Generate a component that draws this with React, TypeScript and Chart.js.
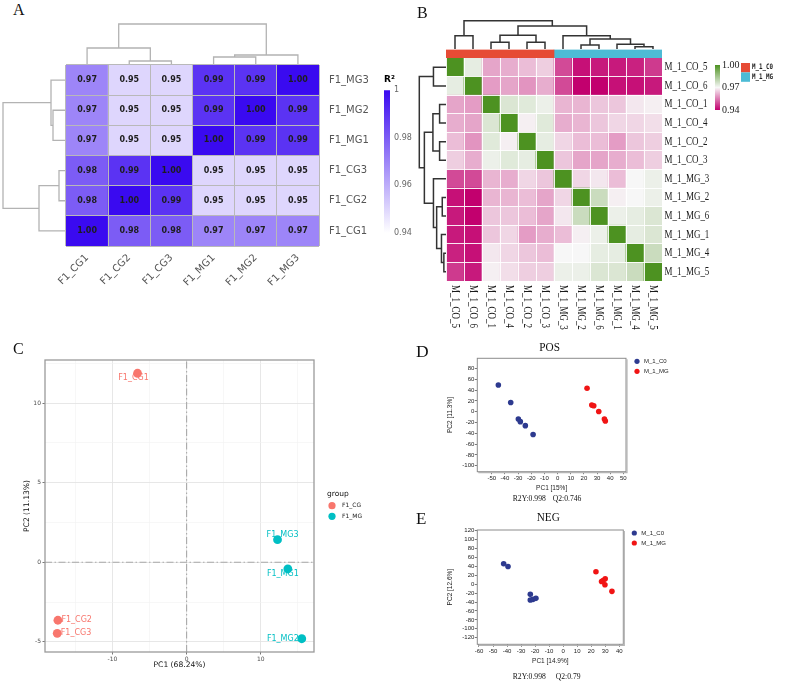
import React, { useEffect, useRef } from "react";
import { Chart, registerables } from "chart.js";

Chart.register(...registerables);

/* ---------- fonts ---------- */
const SANS = '"DejaVu Sans", sans-serif';
const ARIAL = '"Liberation Sans", Arial, sans-serif';
const SERIF = '"Liberation Serif", "Times New Roman", serif';
const MONO = '"DejaVu Sans Mono", monospace';

/* ---------- A: R² correlation between samples ---------- */
const colsA = ["F1_CG1", "F1_CG2", "F1_CG3", "F1_MG1", "F1_MG2", "F1_MG3"];
const rowsA = ["F1_MG3", "F1_MG2", "F1_MG1", "F1_CG3", "F1_CG2", "F1_CG1"];
const r2A_MG3 = [0.97, 0.95, 0.95, 0.99, 0.99, 1.0];
const r2A_MG2 = [0.97, 0.95, 0.95, 0.99, 1.0, 0.99];
const r2A_MG1 = [0.97, 0.95, 0.95, 1.0, 0.99, 0.99];
const r2A_CG3 = [0.98, 0.99, 1.0, 0.95, 0.95, 0.95];
const r2A_CG2 = [0.98, 1.0, 0.99, 0.95, 0.95, 0.95];
const r2A_CG1 = [1.0, 0.98, 0.98, 0.97, 0.97, 0.97];
const r2A = [r2A_MG3, r2A_MG2, r2A_MG1, r2A_CG3, r2A_CG2, r2A_CG1];
const legendTicksA = [0.94, 0.96, 0.98, 1];
// hclust-style merges: negative = leaf (1-based, display order), positive = earlier merge
const colMergeA = [[-2, -3], [-4, -5], [-6, 2], [-1, 1], [4, 3]];
const colHeightA = [0.4, 0.8, 1.0, 1.7, 4.1];
const rowMergeA = [[-2, -3], [-1, 1], [-4, -5], [-6, 3], [2, 4]];
const rowHeightA = [1.3, 1.5, 0.7, 2.7, 6.3];

/* ---------- B: correlation heatmap with groups ---------- */
const samplesB = ["M_1_CO_5", "M_1_CO_6", "M_1_CO_1", "M_1_CO_4", "M_1_CO_2", "M_1_CO_3",
  "M_1_MG_3", "M_1_MG_2", "M_1_MG_6", "M_1_MG_1", "M_1_MG_4", "M_1_MG_5"];
const corB_CO5 = [1.0, 0.973, 0.960, 0.961, 0.963, 0.965, 0.949, 0.942, 0.943, 0.943, 0.944, 0.947];
const corB_CO6 = [0.973, 1.0, 0.959, 0.960, 0.958, 0.961, 0.949, 0.940, 0.940, 0.942, 0.942, 0.943];
const corB_CO1 = [0.960, 0.959, 1.0, 0.975, 0.974, 0.972, 0.962, 0.962, 0.964, 0.964, 0.968, 0.969];
const corB_CO4 = [0.961, 0.960, 0.975, 1.0, 0.969, 0.974, 0.961, 0.962, 0.964, 0.966, 0.966, 0.967];
const corB_CO2 = [0.963, 0.958, 0.974, 0.969, 1.0, 0.973, 0.966, 0.963, 0.963, 0.959, 0.964, 0.965];
const corB_CO3 = [0.965, 0.961, 0.972, 0.974, 0.973, 1.0, 0.964, 0.960, 0.960, 0.961, 0.963, 0.965];
const corB_MG3 = [0.949, 0.949, 0.962, 0.961, 0.966, 0.964, 1.0, 0.966, 0.968, 0.963, 0.970, 0.972];
const corB_MG2 = [0.942, 0.940, 0.962, 0.962, 0.963, 0.960, 0.966, 1.0, 0.978, 0.969, 0.970, 0.972];
const corB_MG6 = [0.943, 0.940, 0.964, 0.964, 0.963, 0.960, 0.968, 0.978, 1.0, 0.972, 0.973, 0.975];
const corB_MG1 = [0.943, 0.942, 0.964, 0.966, 0.959, 0.961, 0.963, 0.969, 0.972, 1.0, 0.973, 0.975];
const corB_MG4 = [0.944, 0.942, 0.968, 0.966, 0.964, 0.963, 0.970, 0.970, 0.973, 0.973, 1.0, 0.978];
const corB_MG5 = [0.947, 0.943, 0.969, 0.967, 0.965, 0.965, 0.972, 0.972, 0.975, 0.975, 0.978, 1.0];
const corB = [corB_CO5, corB_CO6, corB_CO1, corB_CO4, corB_CO2, corB_CO3,
  corB_MG3, corB_MG2, corB_MG6, corB_MG1, corB_MG4, corB_MG5];
const groupNamesB = ["M_1_C0", "M_1_MG"];
const groupOfB = samplesB.map((s) => (s.includes("_CO_") ? groupNamesB[0] : groupNamesB[1]));
const legendTicksB = [0.94, 0.97, 1.0];
const mergeB = [[-1, -2], [-3, -4], [-5, -6], [2, 3], [-11, -12], [-10, 5], [-8, -9], [7, 6], [-7, 8], [4, 9], [1, 10]];
const heightB = [0.47, 0.24, 0.24, 0.49, 0.08, 0.17, 0.14, 0.35, 0.47, 0.81, 1.0];

/* ---------- C: PCA ---------- */
const samplesC = ["F1_CG1", "F1_CG2", "F1_CG3", "F1_MG1", "F1_MG2", "F1_MG3"];
const groupC = ["F1_CG", "F1_CG", "F1_CG", "F1_MG", "F1_MG", "F1_MG"];
const pc1C = [-6.62, -17.36, -17.45, 13.65, 15.53, 12.26];
const pc2C = [11.87, -3.64, -4.46, -0.42, -4.8, 1.42];
const majorTicksCX = [-10, 0, 10];
const minorTicksCX = [-15, -5, 5, 15];
const majorTicksCY = [-5, 0, 5, 10];
const minorTicksCY = [-2.5, 2.5, 7.5, 12.5];

/* ---------- D / E: OPLS-DA score plots ---------- */
const groupNamesDE = ["M_1_C0", "M_1_MG"];
const posCO_x = [-45.0, -35.6, -29.8, -28.3, -24.5, -18.6];
const posCO_y = [49.5, 17.1, -13.4, -18.3, -25.7, -42.2];
const posMG_x = [22.4, 26.0, 27.5, 31.3, 35.6, 36.3];
const posMG_y = [43.5, 12.3, 11.0, 0.6, -13.4, -17.1];
const negCO_x = [-42.4, -39.3, -23.4, -23.4, -21.5, -19.4];
const negCO_y = [45.7, 39.7, -22.7, -35.4, -33.9, -31.7];
const negMG_x = [23.4, 27.4, 28.5, 30.0, 29.8, 34.8];
const negMG_y = [27.9, 6.2, 8.0, 12.3, -1.1, -16.0];
const xTicksD = [-50, -40, -30, -20, -10, 0, 10, 20, 30, 40, 50];
const yTicksD = [-100, -80, -60, -40, -20, 0, 20, 40, 60, 80];
const xTicksE = [-60, -50, -40, -30, -20, -10, 0, 10, 20, 30, 40];
const yTicksE = [-120, -100, -80, -60, -40, -20, 0, 20, 40, 60, 80, 100, 120];
const xRangeD = [-61, 52];
const yRangeD = [-111, 99];
const xRangeE = [-61.2, 42.9];
const yRangeE = [-134.7, 121.5];
const statsPOS = { r2y: 0.998, q2: 0.746 };
const statsNEG = { r2y: 0.998, q2: 0.79 };

/* ---------- colour scales ---------- */
type RGB = number[];
const mixRGB = (a: RGB, b: RGB, t: number) =>
  `rgb(${Math.round(a[0] + (b[0] - a[0]) * t)},${Math.round(a[1] + (b[1] - a[1]) * t)},${Math.round(a[2] + (b[2] - a[2]) * t)})`;
const rampA: [number, RGB][] = [[0.94, [255, 255, 255]], [1.0, [58, 10, 240]]];
const rampB: [number, RGB][] = [[0.94, [194, 0, 110]], [0.97, [247, 247, 247]], [1.0, [77, 146, 33]]];
function rampColor(ramp: [number, RGB][], v: number) {
  if (v <= ramp[0][0]) return mixRGB(ramp[0][1], ramp[0][1], 0);
  for (let i = 0; i < ramp.length - 1; i++) {
    const [v0, c0] = ramp[i];
    const [v1, c1] = ramp[i + 1];
    if (v <= v1) return mixRGB(c0, c1, (v - v0) / (v1 - v0));
  }
  const last = ramp[ramp.length - 1][1];
  return mixRGB(last, last, 0);
}
const colorA = (v: number) => rampColor(rampA, v);
const colorB = (v: number) => rampColor(rampB, v);

function rampGradient(ramp: [number, RGB][]) {
  return (c: any) => {
    const chart = c.chart;
    if (!chart.chartArea) return "transparent";
    const y = chart.scales.y;
    const lo = ramp[0][0];
    const hi = ramp[ramp.length - 1][0];
    const g = chart.ctx.createLinearGradient(0, y.getPixelForValue(lo), 0, y.getPixelForValue(hi));
    ramp.forEach(([v, col]) => g.addColorStop((v - lo) / (hi - lo), mixRGB(col, col, 0)));
    return g;
  };
}

/* ---------- helpers ---------- */
function baseOptions(padding: any) {
  return {
    responsive: false,
    maintainAspectRatio: false,
    animation: false,
    devicePixelRatio: 1,
    events: [],
    layout: { padding },
    plugins: { legend: { display: false }, tooltip: { enabled: false }, title: { display: false } },
  };
}

function drawText(ctx: CanvasRenderingContext2D, text: string, x: number, y: number, font: string,
  color: string, align: CanvasTextAlign = "left", sx = 1, rot = 0) {
  ctx.save();
  ctx.font = font;
  ctx.fillStyle = color;
  ctx.textAlign = align;
  ctx.textBaseline = "middle";
  ctx.translate(x, y);
  if (rot) ctx.rotate(rot);
  ctx.scale(sx, 1);
  ctx.fillText(text, 0, 0);
  ctx.restore();
}

// U-shaped links of a dendrogram, [position, height] pairs
function dendroSegments(merge: number[][], height: number[]) {
  const pos: number[] = [];
  const hgt: number[] = [];
  return merge.map(([a, b], i) => {
    const pa = a < 0 ? -a - 0.5 : pos[a - 1];
    const ha = a < 0 ? 0 : hgt[a - 1];
    const pb = b < 0 ? -b - 0.5 : pos[b - 1];
    const hb = b < 0 ? 0 : hgt[b - 1];
    const h = height[i];
    pos[i] = (pa + pb) / 2;
    hgt[i] = h;
    return [[pa, ha], [pa, h], [pb, h], [pb, hb]];
  });
}

function dendroConfig(merge: number[][], height: number[], leaves: number, side: "top" | "left",
  color: string, width: number, padding: any) {
  const hMax = Math.max(...height);
  const datasets = dendroSegments(merge, height).map((seg) => ({
    data: seg.map(([p, h]) => (side === "top" ? { x: p, y: h } : { x: h, y: p })),
    showLine: true,
    pointRadius: 0,
    borderColor: color,
    borderWidth: width,
    borderCapStyle: "butt",
    borderJoinStyle: "miter",
    clip: false,
    tension: 0,
  }));
  const scales =
    side === "top"
      ? { x: { type: "linear", min: 0, max: leaves, display: false }, y: { type: "linear", min: 0, max: hMax, display: false } }
      : { x: { type: "linear", min: 0, max: hMax, reverse: true, display: false }, y: { type: "linear", min: 0, max: leaves, reverse: true, display: false } };
  return { type: "scatter", data: { datasets }, options: { ...baseOptions(padding), scales } };
}

function ChartBox({ left, top, width, height, config }: any) {
  const ref = useRef<HTMLCanvasElement>(null);
  useEffect(() => {
    const chart = new Chart(ref.current as HTMLCanvasElement, config());
    return () => chart.destroy();
  }, []);
  return (
    <canvas ref={ref} width={width} height={height}
      style={{ position: "absolute", left, top, width, height, display: "block" }} />
  );
}

/* ---------- plugins ---------- */
const cellTextPlugin = {
  id: "cellText",
  afterDatasetsDraw(chart: any) {
    const ctx = chart.ctx;
    chart.data.datasets.forEach((ds: any, j: number) => {
      chart.getDatasetMeta(j).data.forEach((el: any, c: number) => {
        const { x, y, base } = el.getProps(["x", "y", "base"], true);
        drawText(ctx, ds.values[c].toFixed(2), x, (y + base) / 2, `bold 8px ${SANS}`, "#1e1e1e", "center");
      });
    });
  },
};

const sampleLabelsB = {
  id: "sampleLabelsB",
  afterDraw(chart: any) {
    const { ctx, chartArea: a, scales } = chart;
    const font = `11.5px ${SERIF}`;
    chart.data.labels.forEach((lab: string, i: number) => {
      drawText(ctx, lab, a.right + 2.5, scales.yr.getPixelForValue(i), font, "#1a1a1a", "left", 0.78);
      drawText(ctx, lab, scales.x.getPixelForValue(i), a.bottom + 4, font, "#1a1a1a", "left", 0.78, Math.PI / 2);
    });
  },
};

const groupLegendB = {
  id: "groupLegendB",
  afterDraw(chart: any) {
    const { ctx, chartArea: a } = chart;
    const x0 = a.right + 79;
    const y0 = a.bottom + 5;
    chart.data.datasets.forEach((ds: any, i: number) => {
      const y = y0 + i * 9.4;
      ctx.fillStyle = ds.backgroundColor;
      ctx.fillRect(x0, y, 9, 9.4);
      drawText(ctx, ds.label, x0 + 11, y + 4.5 + i * 0.6, `bold 7.5px ${MONO}`, "#222", "left", 0.78);
    });
  },
};

const pcaDecor = {
  id: "pcaDecor",
  afterDraw(chart: any) {
    const { ctx, chartArea: a, scales } = chart;
    // panel border
    ctx.save();
    ctx.strokeStyle = "#9a9a9a";
    ctx.lineWidth = 1.3;
    ctx.strokeRect(a.left, a.top, a.right - a.left, a.bottom - a.top);
    ctx.restore();
    // sample labels
    const place: Record<string, [number, number, CanvasTextAlign]> = {
      F1_CG1: [-4, 5, "center"], F1_CG2: [3.5, 0, "left"], F1_CG3: [3.5, 0, "left"],
      F1_MG3: [5, -5, "center"], F1_MG1: [-5, 5, "center"], F1_MG2: [-3, 0, "right"],
    };
    [0, 1].forEach((j) => {
      const ds = chart.data.datasets[j];
      ds.data.forEach((p: any, k: number) => {
        const [dx, dy, al] = place[ds.names[k]];
        const px = scales.x.getPixelForValue(p.x);
        const py = scales.y.getPixelForValue(p.y);
        drawText(ctx, ds.names[k], px + dx, py + dy, `8px ${SANS}`, ds.backgroundColor, al);
      });
    });
    // legend
    const lx = a.right + 13;
    drawText(ctx, "group", lx, a.top + 134, `7.5px ${SANS}`, "#111", "left");
    [0, 1].forEach((j) => {
      const ds = chart.data.datasets[j];
      const y = a.top + 145.7 + j * 10.6;
      ctx.beginPath();
      ctx.arc(lx + 5, y, 3.6, 0, Math.PI * 2);
      ctx.fillStyle = ds.backgroundColor;
      ctx.fill();
      drawText(ctx, ds.label, lx + 15, y, `6px ${SANS}`, "#222", "left");
    });
  },
};

function oplsDecor(title: string, stats: { r2y: number; q2: number }, statsDy: number, titleDy: number, q2Dx: number) {
  return {
    id: "oplsDecor",
    afterDraw(chart: any) {
      const { ctx, chartArea: a } = chart;
      ctx.save();
      ctx.strokeStyle = "#8c8c8c";
      ctx.lineWidth = 1;
      ctx.strokeRect(a.left, a.top, a.right - a.left, a.bottom - a.top);
      ctx.strokeStyle = "#b4b4b4";
      ctx.lineWidth = 1.2;
      ctx.beginPath();
      ctx.moveTo(a.right + 1, a.top + 1);
      ctx.lineTo(a.right + 1, a.bottom + 1);
      ctx.lineTo(a.left + 1, a.bottom + 1);
      ctx.stroke();
      ctx.restore();
      const cx = (a.left + a.right) / 2;
      drawText(ctx, title, cx - 2, a.top + titleDy, `12.5px ${SERIF}`, "#111", "center", 0.9);
      drawText(ctx, `R2Y:${stats.r2y}`, a.left + 35.4, a.bottom + statsDy, `9px ${SERIF}`, "#111", "left", 0.85);
      drawText(ctx, `Q2:${stats.q2}`, a.left + q2Dx, a.bottom + statsDy, `9px ${SERIF}`, "#111", "left", 0.85);
      // legend
      chart.data.datasets.forEach((ds: any, j: number) => {
        const y = a.top + 3 + j * 10;
        ctx.beginPath();
        ctx.arc(a.right + 11, y, 2.6, 0, Math.PI * 2);
        ctx.fillStyle = ds.backgroundColor;
        ctx.fill();
        drawText(ctx, ds.label, a.right + 18, y, `6px ${ARIAL}`, "#222", "left");
      });
    },
  };
}

/* ---------- chart configs ---------- */
function heatmapAConfig() {
  const gridCol = "#b9b9b9";
  const datasets = rowsA
    .map((name, r) => ({
      label: name,
      values: r2A[r],
      data: r2A[r].map(() => 1),
      backgroundColor: r2A[r].map(colorA),
      borderWidth: 0,
      barPercentage: 1,
      categoryPercentage: 1,
    }))
    .reverse();
  return {
    type: "bar",
    data: { labels: colsA, datasets },
    options: {
      ...baseOptions({ left: 16, top: 10, right: 0, bottom: 0 }),
      scales: {
        x: {
          stacked: true, offset: true,
          grid: { offset: true, color: gridCol, lineWidth: 1, z: 1, drawTicks: false },
          border: { display: false },
          ticks: { autoSkip: false, minRotation: 45, maxRotation: 45, padding: 6, color: "#555", font: { family: SANS, size: 10 } },
          afterFit: (s: any) => { s.height = 54; s.paddingLeft = 0; s.paddingRight = 0; },
        },
        y: { stacked: true, min: 0, max: rowsA.length, display: false },
        yr: {
          type: "category", labels: rowsA, position: "right", offset: true,
          grid: { offset: true, color: gridCol, lineWidth: 1, z: 1, drawTicks: false },
          border: { display: false },
          ticks: { autoSkip: false, padding: 10, color: "#555", font: { family: SANS, size: 10 } },
          afterFit: (s: any) => { s.width = 81; s.paddingTop = 0; s.paddingBottom = 0; },
        },
      },
    },
    plugins: [cellTextPlugin],
  };
}

function colorbarAConfig() {
  const lo = legendTicksA[0];
  const hi = legendTicksA[legendTicksA.length - 1];
  return {
    type: "bar",
    data: {
      labels: ["R²"],
      datasets: [{ data: [[lo, hi]], backgroundColor: rampGradient(rampA), borderWidth: 0, barPercentage: 1, categoryPercentage: 1 }],
    },
    options: {
      ...baseOptions({ left: 8, top: 0, right: 0, bottom: 12 }),
      plugins: {
        legend: { display: false }, tooltip: { enabled: false },
        title: { display: true, text: "R²", align: "start", color: "#000", font: { family: SANS, size: 9, weight: "bold" }, padding: { top: 4.2, bottom: 5.2 } },
      },
      scales: {
        x: { display: false },
        y: {
          position: "right", min: lo, max: hi,
          afterBuildTicks: (s: any) => { s.ticks = legendTicksA.map((v) => ({ value: v })); },
          grid: { display: false, drawTicks: false },
          border: { display: false },
          ticks: { padding: 4, color: "#666", font: { family: SANS, size: 8 }, callback: (v: any) => (v === 1 ? "1" : Number(v).toFixed(2)) },
          afterFit: (s: any) => { s.width = 36; s.paddingTop = 0; s.paddingBottom = 0; },
        },
      },
    },
  };
}

function heatmapBConfig() {
  const white = "rgba(255,255,255,0.9)";
  const datasets = corB
    .map((row, r) => ({
      label: samplesB[r],
      values: row,
      data: row.map(() => 1),
      backgroundColor: row.map(colorB),
      borderWidth: 0,
      barPercentage: 1,
      categoryPercentage: 1,
    }))
    .reverse();
  return {
    type: "bar",
    data: { labels: samplesB, datasets },
    options: {
      ...baseOptions({ left: 6, top: 8, right: 0, bottom: 0 }),
      scales: {
        x: {
          stacked: true, offset: true,
          grid: { offset: true, color: white, lineWidth: 1, z: 1, drawTicks: false },
          border: { display: false },
          ticks: { display: false },
          afterFit: (s: any) => { s.height = 54; s.paddingLeft = 0; s.paddingRight = 0; },
        },
        y: { stacked: true, min: 0, max: samplesB.length, display: false },
        yr: {
          type: "category", labels: samplesB, position: "right", offset: true,
          grid: { offset: true, color: white, lineWidth: 1, z: 1, drawTicks: false },
          border: { display: false },
          ticks: { display: false },
          afterFit: (s: any) => { s.width = 123; s.paddingTop = 0; s.paddingBottom = 0; },
        },
      },
    },
    plugins: [sampleLabelsB],
  };
}

function groupStripConfig() {
  const datasets = groupNamesB.map((g, i) => ({
    label: g,
    data: [groupOfB.filter((x) => x === g).length],
    backgroundColor: i === 0 ? "#E64B35" : "#4DBBD5",
    borderWidth: 0,
    barPercentage: 1,
    categoryPercentage: 1,
  }));
  return {
    type: "bar",
    data: { labels: ["group"], datasets },
    options: {
      ...baseOptions({ left: 0, top: 4.5, right: 123, bottom: 32 }),
      indexAxis: "y",
      scales: {
        x: { stacked: true, min: 0, max: samplesB.length, display: false },
        y: { stacked: true, display: false },
      },
    },
    plugins: [groupLegendB],
  };
}

function colorbarBConfig() {
  const lo = legendTicksB[0];
  const hi = legendTicksB[legendTicksB.length - 1];
  return {
    type: "bar",
    data: {
      labels: ["r"],
      datasets: [{ data: [[lo, hi]], backgroundColor: rampGradient(rampB), borderWidth: 0, barPercentage: 1, categoryPercentage: 1 }],
    },
    options: {
      ...baseOptions({ left: 7, top: 10, right: 0, bottom: 10 }),
      scales: {
        x: { display: false },
        y: {
          position: "right", min: lo, max: hi,
          afterBuildTicks: (s: any) => { s.ticks = legendTicksB.map((v) => ({ value: v })); },
          grid: { display: false, drawTicks: false },
          border: { display: false },
          ticks: { padding: 2, color: "#222", font: { family: SERIF, size: 10 }, callback: (v: any) => Number(v).toFixed(2) },
          afterFit: (s: any) => { s.width = 48; s.paddingTop = 0; s.paddingBottom = 0; },
        },
      },
    },
  };
}

function pcaConfig() {
  const groups = ["F1_CG", "F1_MG"];
  const colors = ["#F8766D", "#00BFC4"];
  const span = (v: number[]) => Math.max(...v) - Math.min(...v);
  const xMin = Math.min(...pc1C) - 0.05 * span(pc1C);
  const xMax = Math.max(...pc1C) + 0.05 * span(pc1C);
  const yMin = Math.min(...pc2C) - 0.05 * span(pc2C);
  const yMax = Math.max(...pc2C) + 0.05 * span(pc2C);
  const pts = groups.map((g, j) => {
    const idx = samplesC.map((_, i) => i).filter((i) => groupC[i] === g);
    return {
      label: g,
      names: idx.map((i) => samplesC[i]),
      data: idx.map((i) => ({ x: pc1C[i], y: pc2C[i] })),
      backgroundColor: colors[j],
      borderColor: colors[j],
      pointRadius: 4.4,
      borderWidth: 0,
    };
  });
  const dash = {
    showLine: true, pointRadius: 0, borderColor: "#a9a9a9", borderWidth: 1.1,
    borderDash: [7, 2.5, 1.5, 2.5], clip: false,
  };
  const datasets = [
    ...pts,
    { ...dash, label: "v0", data: [{ x: 0, y: yMin }, { x: 0, y: yMax }] },
    { ...dash, label: "h0", data: [{ x: xMin, y: 0 }, { x: xMax, y: 0 }] },
  ];
  const axis = (major: number[], minor: number[], min: number, max: number, title: string, titlePad: any, fit: (s: any) => void) => ({
    type: "linear", min, max,
    afterBuildTicks: (s: any) => {
      s.ticks = [...major, ...minor].filter((v) => v >= min && v <= max).sort((a, b) => a - b).map((v) => ({ value: v }));
    },
    grid: {
      color: (c: any) => (major.includes(c.tick?.value) ? "#e4e4e4" : "#f2f2f2"),
      lineWidth: (c: any) => (major.includes(c.tick?.value) ? 0.9 : 0.6),
      drawTicks: true, tickLength: 2.5, tickWidth: 0.8,
      tickColor: (c: any) => (major.includes(c.tick?.value) ? "#555" : "rgba(0,0,0,0)"),
    },
    border: { display: false },
    ticks: { autoSkip: false, maxRotation: 0, padding: 1.5, color: "#4d4d4d", font: { family: SANS, size: 6 },
      callback: (v: any) => (major.includes(v) ? String(v) : "") },
    title: { display: true, text: title, color: "#111", font: { family: SANS, size: 7.6 }, padding: titlePad },
    afterFit: fit,
  });
  return {
    type: "scatter",
    data: { datasets },
    options: {
      ...baseOptions({ left: 0, top: 20, right: 86, bottom: 0 }),
      scales: {
        x: axis(majorTicksCX, minorTicksCX, xMin, xMax, "PC1 (68.24%)", { top: 0, bottom: 12.4 },
          (s: any) => { s.height = 30; s.paddingLeft = 0; s.paddingRight = 0; }),
        y: axis(majorTicksCY, minorTicksCY, yMin, yMax, "PC2 (11.13%)", { top: 22.7, bottom: 0 },
          (s: any) => { s.width = 45; s.paddingTop = 0; s.paddingBottom = 0; }),
      },
    },
    plugins: [pcaDecor],
  };
}

function oplsConfig(p: any) {
  const colors = ["#2d3a8f", "#f01414"];
  const datasets = groupNamesDE.map((g, j) => ({
    label: g,
    data: p.xs[j].map((x: number, i: number) => ({ x, y: p.ys[j][i] })),
    backgroundColor: colors[j],
    borderColor: colors[j],
    pointRadius: 2.8,
    borderWidth: 0,
  }));
  const axis = (ticks: number[], range: number[], title: string, titlePad: any, fit: (s: any) => void) => ({
    type: "linear", min: range[0], max: range[1],
    afterBuildTicks: (s: any) => { s.ticks = ticks.map((v) => ({ value: v })); },
    grid: { drawOnChartArea: false, drawTicks: true, tickLength: 2.5, tickWidth: 0.8, tickColor: "#555" },
    border: { display: false },
    ticks: { autoSkip: false, maxRotation: 0, padding: 0.5, color: "#222", font: { family: ARIAL, size: 6 } },
    title: { display: true, text: title, color: "#222", font: { family: ARIAL, size: 6.5 }, padding: titlePad },
    afterFit: fit,
  });
  return {
    type: "scatter",
    data: { datasets },
    options: {
      ...baseOptions(p.padding),
      scales: {
        x: axis(p.xTicks, p.xRange, p.xTitle, { top: 0, bottom: p.xTitlePad },
          (s: any) => { s.height = p.xAxisH; s.paddingLeft = 0; s.paddingRight = 0; }),
        y: axis(p.yTicks, p.yRange, p.yTitle, { top: 6, bottom: 0 },
          (s: any) => { s.width = 37.3; s.paddingTop = 0; s.paddingBottom = 0; }),
      },
    },
    plugins: [oplsDecor(p.title, p.stats, p.statsDy, p.titleDy, p.q2Dx)],
  };
}

/* ---------- page ---------- */
const letterStyle = (left: number, top: number, size: number): React.CSSProperties => ({
  position: "absolute", left, top, fontFamily: SERIF, fontSize: size, lineHeight: 1, color: "#111",
});

export default function App() {
  return (
    <div style={{ position: "absolute", left: 0, top: 0, width: 785, height: 682, background: "#fff", overflow: "hidden" }}>
      {/* A */}
      <ChartBox left={66} top={22} width={253} height={43}
        config={() => dendroConfig(colMergeA, colHeightA, colsA.length, "top", "#b3b3b3", 1.3, { top: 2 })} />
      <ChartBox left={0} top={65} width={66} height={181}
        config={() => dendroConfig(rowMergeA, rowHeightA, rowsA.length, "left", "#b3b3b3", 1.3, { left: 3 })} />
      <ChartBox left={50} top={55} width={350} height={245} config={heatmapAConfig} />
      <ChartBox left={376} top={70} width={50} height={175} config={colorbarAConfig} />

      {/* B */}
      <ChartBox left={446} top={18} width={216} height={31}
        config={() => dendroConfig(mergeB, heightB, samplesB.length, "top", "#333", 1.5, { top: 2.7 })} />
      <ChartBox left={410} top={58} width={36} height={223}
        config={() => dendroConfig(mergeB, heightB, samplesB.length, "left", "#333", 1.5, { left: 9.3 })} />
      <ChartBox left={440} top={50} width={345} height={285} config={heatmapBConfig} />
      <ChartBox left={446} top={45} width={339} height={45} config={groupStripConfig} />
      <ChartBox left={708} top={55} width={60} height={65} config={colorbarBConfig} />

      {/* C */}
      <ChartBox left={0} top={340} width={400} height={342} config={pcaConfig} />

      {/* D */}
      <ChartBox left={440} top={340} width={260} height={165}
        config={() => oplsConfig({
          xs: [posCO_x, posMG_x], ys: [posCO_y, posMG_y],
          xTicks: xTicksD, yTicks: yTicksD, xRange: xRangeD, yRange: yRangeD,
          xTitle: "PC1 [15%]", yTitle: "PC2 [11.3%]", title: "POS", stats: statsPOS,
          padding: { left: 0, top: 18.3, right: 74, bottom: 0 }, xAxisH: 33.3, xTitlePad: 12.5,
          statsDy: 26.5, titleDy: -10.5, q2Dx: 75.4,
        })} />

      {/* E */}
      <ChartBox left={440} top={505} width={260} height={177}
        config={() => oplsConfig({
          xs: [negCO_x, negMG_x], ys: [negCO_y, negMG_y],
          xTicks: xTicksE, yTicks: yTicksE, xRange: xRangeE, yRange: yRangeE,
          xTitle: "PC1 [14.9%]", yTitle: "PC2 [12.6%]", title: "NEG", stats: statsNEG,
          padding: { left: 0, top: 25, right: 76.7, bottom: 0 }, xAxisH: 37.7, xTitlePad: 16.8,
          statsDy: 32.4, titleDy: -12.7, q2Dx: 78.4,
        })} />

      <div style={letterStyle(13, 2, 16)}>A</div>
      <div style={letterStyle(417, 5, 16)}>B</div>
      <div style={letterStyle(13, 340.5, 16)}>C</div>
      <div style={letterStyle(416, 343, 17.5)}>D</div>
      <div style={letterStyle(416, 509.5, 17)}>E</div>
    </div>
  );
}
